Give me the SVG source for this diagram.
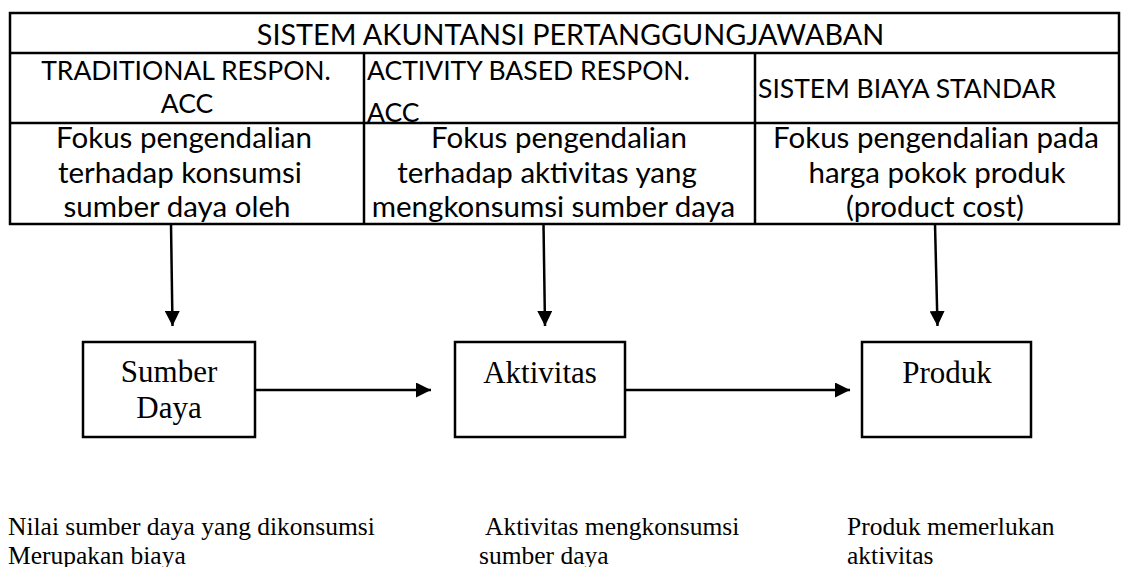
<svg xmlns="http://www.w3.org/2000/svg" width="1127" height="567" viewBox="0 0 1127 567">
<style>
.tbl{fill:#fff;stroke:#000;stroke-width:2.5}
.ln{stroke:#000;stroke-width:2.5;fill:none}
.cal{font-family:Lato,"Open Sans","Liberation Sans",sans-serif;fill:#000}
.t1{font-size:28.8px}
.t2{font-size:26.5px}
.t3{font-size:29.5px}
.tim{font-family:"Liberation Serif","Times New Roman",serif;fill:#000}
.bx{font-size:31px}
.nt{font-size:25.5px}
.box{fill:#fff;stroke:#000;stroke-width:2.5}
.arr{stroke:#000;stroke-width:2.5;fill:none;marker-end:url(#ah)}
</style>
<defs>
<marker id="ah" markerWidth="6" markerHeight="6" refX="6" refY="3" orient="auto" markerUnits="strokeWidth">
<path d="M0,0 L6,3 L0,6 Z" fill="#000"/>
</marker>
</defs>
<rect width="1127" height="567" fill="#fff"/>
<g id="table">
<rect class="tbl" x="10" y="13" width="1109" height="211"/>
<line class="ln" x1="10" y1="53" x2="1119" y2="53"/>
<line class="ln" x1="10" y1="123" x2="1119" y2="123"/>
<line class="ln" x1="364" y1="53" x2="364" y2="224"/>
<line class="ln" x1="755" y1="53" x2="755" y2="224"/>
<text class="cal t1" x="570.5" y="45" text-anchor="middle">SISTEM AKUNTANSI PERTANGGUNGJAWABAN</text>
<text class="cal t2" x="186" y="80" text-anchor="middle">TRADITIONAL RESPON.</text>
<text class="cal t2" x="187" y="113" text-anchor="middle">ACC</text>
<text class="cal t2" x="367" y="80">ACTIVITY BASED RESPON.</text>
<text class="cal t2" x="367" y="122">ACC</text>
<text class="cal t2" x="758" y="98">SISTEM BIAYA STANDAR</text>
<text class="cal t3" x="184" y="148" text-anchor="middle">Fokus pengendalian</text>
<text class="cal t3" x="180" y="183" text-anchor="middle">terhadap konsumsi</text>
<text class="cal t3" x="177" y="217" text-anchor="middle">sumber daya oleh</text>
<text class="cal t3" x="559" y="148" text-anchor="middle">Fokus pengendalian</text>
<text class="cal t3" x="547" y="183" text-anchor="middle">terhadap aktivitas yang</text>
<text class="cal t3" x="553.5" y="217" text-anchor="middle">mengkonsumsi sumber daya</text>
<text class="cal t3" x="936" y="148" text-anchor="middle">Fokus pengendalian pada</text>
<text class="cal t3" x="937" y="183" text-anchor="middle">harga pokok produk</text>
<text class="cal t3" x="935" y="217" text-anchor="middle">(product cost)</text>
</g>
<g id="sumber-daya">
<rect class="box" x="83" y="342" width="172" height="95"/>
<text class="tim bx" x="169" y="382" text-anchor="middle">Sumber</text>
<text class="tim bx" x="169" y="418" text-anchor="middle">Daya</text>
</g>
<g id="aktivitas">
<rect class="box" x="455" y="342" width="170" height="95"/>
<text class="tim bx" x="540" y="383" text-anchor="middle">Aktivitas</text>
</g>
<g id="produk">
<rect class="box" x="862" y="342" width="169" height="95"/>
<text class="tim bx" x="947" y="383" text-anchor="middle">Produk</text>
</g>
<g id="connectors">
<line class="arr" x1="171" y1="224" x2="172.5" y2="326"/>
<line class="arr" x1="543.5" y1="224" x2="545" y2="326"/>
<line class="arr" x1="935" y1="224" x2="937.5" y2="326"/>
<line class="arr" x1="255" y1="390" x2="431" y2="390"/>
<line class="arr" x1="625" y1="390" x2="850" y2="390"/>
</g>
<g id="notes">
<text class="tim nt" x="8" y="535">Nilai sumber daya yang dikonsumsi</text>
<text class="tim nt" x="8" y="564">Merupakan biaya</text>
<text class="tim nt" x="485" y="535">Aktivitas mengkonsumsi</text>
<text class="tim nt" x="479" y="564">sumber daya</text>
<text class="tim nt" x="847" y="535">Produk memerlukan</text>
<text class="tim nt" x="847" y="564">aktivitas</text>
</g>
</svg>
